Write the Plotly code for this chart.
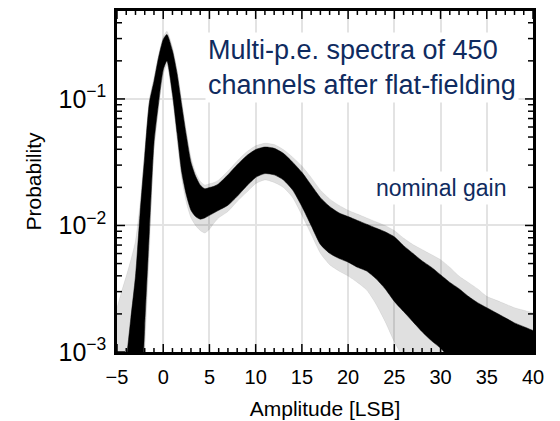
import plotly.graph_objects as go
import numpy as np

# amplitude bins [LSB]
amp = [-5, -4.5, -4, -3.5, -3, -2.5, -2, -1.5, -1, -0.5, 0, 0.4, 1, 1.5, 2, 2.5, 3, 3.5, 4, 4.5, 5, 5.5, 6,
       7, 8, 9, 10, 11, 12, 13, 14, 15, 16, 17, 18, 19, 20, 21, 22, 23, 24, 25, 26, 27, 28, 29, 30,
       31, 32, 33, 34, 35, 36, 37, 38, 39, 40]

# log10(probability), edges of the dense band of the 450 channels
core_hi = [-3.8, -3.4, -3.07, -2.73, -2.4, -1.9, -1.45, -1.03, -0.86, -0.67, -0.53, -0.49, -0.62, -0.80, -1.05, -1.29,
           -1.50, -1.61, -1.68, -1.71, -1.70, -1.69, -1.67,
           -1.60, -1.52, -1.45, -1.40, -1.38, -1.39, -1.43, -1.50, -1.58, -1.68, -1.78, -1.85, -1.90, -1.93, -1.96,
           -1.99, -2.02, -2.05, -2.09, -2.16, -2.22, -2.28, -2.33, -2.39, -2.45, -2.50, -2.56, -2.61, -2.65, -2.69,
           -2.73, -2.77, -2.80, -2.83]
core_lo = [-5, -5, -5, -5, -4.4, -3.7, -2.8, -2.05, -1.35, -1.03, -0.77, -0.70, -0.96, -1.27, -1.58, -1.76,
           -1.88, -1.93, -1.95, -1.94, -1.92, -1.90, -1.88,
           -1.84, -1.77, -1.69, -1.62, -1.59, -1.60, -1.64, -1.72, -1.85, -2.0, -2.15, -2.22, -2.26, -2.29, -2.33,
           -2.36, -2.42, -2.50, -2.60, -2.68, -2.76, -2.84, -2.91, -2.97, -3.05, -3.15, -3.25, -3.35, -3.45, -3.55,
           -3.65, -3.75, -3.85, -3.95]

# log10(probability), edges of the faint spread
faint_hi = [-2.65, -2.52, -2.4, -2.27, -2.12, -1.82, -1.4, -1.0, -0.83, -0.65, -0.51, -0.465, -0.59, -0.77, -1.01, -1.25,
            -1.46, -1.58, -1.65, -1.68, -1.67, -1.66, -1.64,
            -1.57, -1.49, -1.42, -1.37, -1.35, -1.36, -1.40, -1.46, -1.53, -1.62, -1.72, -1.79, -1.84, -1.88, -1.91,
            -1.94, -1.97, -2.00, -2.04, -2.10, -2.15, -2.19, -2.23, -2.27, -2.33, -2.40, -2.45, -2.50, -2.56, -2.59,
            -2.62, -2.65, -2.67, -2.69]
faint_lo = [-5, -5, -5, -5, -4.6, -3.9, -3.0, -2.2, -1.42, -1.08, -0.81, -0.73, -1.0, -1.32, -1.63, -1.82,
            -1.94, -2.0, -2.04, -2.06, -2.03, -1.98, -1.94,
            -1.89, -1.81, -1.74, -1.67, -1.64, -1.66, -1.70, -1.78, -1.92, -2.07, -2.22, -2.31, -2.36, -2.40, -2.45,
            -2.51, -2.62, -2.76, -2.92, -3.05, -3.2, -3.35, -3.5, -3.5, -3.5, -3.5, -3.5, -3.5, -3.5, -3.5,
            -3.5, -3.5, -3.5, -3.5]

xtick_major = [-5, 0, 5, 10, 15, 20, 25, 30, 35, 40]
xtick_minor = [-4, -3, -2, -1, 1, 2, 3, 4, 6, 7, 8, 9, 11, 12, 13, 14, 16, 17, 18, 19,
               21, 22, 23, 24, 26, 27, 28, 29, 31, 32, 33, 34, 36, 37, 38, 39]
ytick_major = [0.001, 0.01, 0.1]
ytick_minor = [0.002, 0.003, 0.004, 0.005, 0.006, 0.007, 0.008, 0.009,
               0.02, 0.03, 0.04, 0.05, 0.06, 0.07, 0.08, 0.09, 0.2, 0.3, 0.4]

navy = '#0f2b5f'
font = 'Liberation Sans, Arial, sans-serif'

fig = go.Figure()

def band(lo, hi, color):
    fig.add_trace(go.Scatter(x=amp, y=np.power(10.0, lo), mode='lines',
                             line=dict(width=0.5, color=color, shape='spline', smoothing=0.6),
                             hoverinfo='skip', showlegend=False))
    fig.add_trace(go.Scatter(x=amp, y=np.power(10.0, hi), mode='lines',
                             line=dict(width=0.5, color=color, shape='spline', smoothing=0.6),
                             fill='tonexty', fillcolor=color, hoverinfo='skip', showlegend=False))

band(faint_lo, faint_hi, 'rgba(0,0,0,0.12)')
band(core_lo, core_hi, 'rgba(0,0,0,1)')

# plot area is 416 x 344 px, tick lengths given in px
W, H = 416.0, 344.0
tick = dict(color='black', width=1.5)
for v, ln in [(v, 8) for v in xtick_major] + [(v, 4) for v in xtick_minor]:
    fig.add_shape(type='line', xref='x', yref='paper', x0=v, x1=v, y0=0, y1=ln / H, line=tick)
    fig.add_shape(type='line', xref='x', yref='paper', x0=v, x1=v, y0=1, y1=1 - ln / H, line=tick)
for v, ln in [(v, 8) for v in ytick_major] + [(v, 5) for v in ytick_minor]:
    fig.add_shape(type='line', xref='paper', yref='y', x0=0, x1=ln / W, y0=v, y1=v, line=tick)
    fig.add_shape(type='line', xref='paper', yref='y', x0=1, x1=1 - ln / W, y0=v, y1=v, line=tick)

fig.update_xaxes(range=[-5, 40], dtick=5, tick0=0, ticks='', showline=True, linecolor='black', linewidth=2.5,
                 mirror=True, zeroline=False, showgrid=True, gridcolor='#e3e3e3', gridwidth=1.5,
                 ticklabelstandoff=5, tickfont=dict(family=font, size=20, color='black'),
                 title=dict(text='Amplitude [LSB]', font=dict(family=font, size=21, color='black'), standoff=15))
fig.update_yaxes(type='log', range=[-3, -0.305], dtick=1, exponentformat='power', showexponent='all',
                 ticks='', showline=True, linecolor='black', linewidth=2.5, mirror=True, zeroline=False,
                 showgrid=True, gridcolor='#e3e3e3', gridwidth=1.5, ticklabelstandoff=4,
                 tickfont=dict(family=font, size=20, color='black'),
                 title=dict(text='Probability', font=dict(family=font, size=21, color='black'), standoff=12))

fig.add_annotation(xref='paper', yref='paper', x=0.211, y=0.835, xanchor='left', yanchor='middle', align='left',
                   text='Multi-p.e. spectra of 450<br>channels after flat-fielding', showarrow=False,
                   font=dict(family=font, size=27, color=navy), bgcolor='white', borderpad=2)
fig.add_annotation(xref='paper', yref='paper', x=0.614, y=0.48, xanchor='left', yanchor='middle',
                   text='nominal gain', showarrow=False,
                   font=dict(family=font, size=23, color=navy), bgcolor='white', borderpad=3)

fig.update_layout(width=552, height=413, margin=dict(l=109, r=27, t=0, b=69),
                  plot_bgcolor='white', paper_bgcolor='white')

fig.write_html("out.html")
